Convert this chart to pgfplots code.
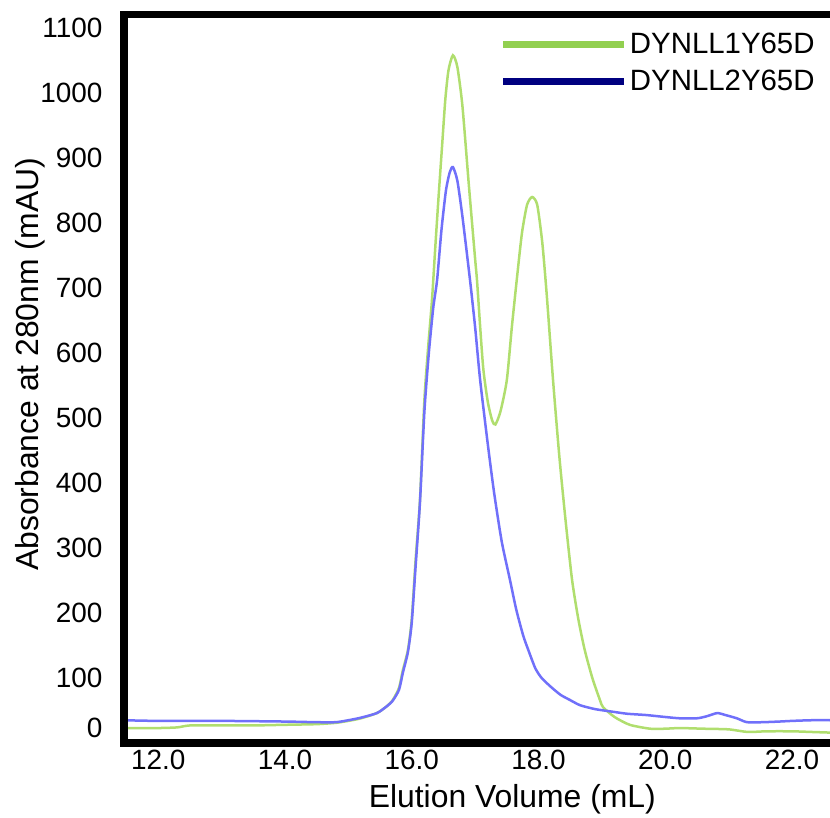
\documentclass[border=0pt]{standalone}
\usepackage{pgfplots}
\pgfplotsset{compat=1.18}
\usepackage{fontspec}
\setmainfont{Liberation Sans}
\definecolor{lgreen}{RGB}{146,208,80}
\definecolor{lnavy}{RGB}{0,0,128}
\definecolor{pgreen}{RGB}{176,222,110}
\definecolor{pblue}{RGB}{112,112,250}

\pgfplotstableread{
x y
11.46 23
12.0 23
12.3 24
12.5 27
13.0 27
13.5 27
14.0 28
14.5 29
14.8 31
15.0 34
15.2 38
15.45 46
15.6 56
15.7 66
15.8 85
15.86 112
15.94 143
16.0 190
16.06 280
16.13 374
16.2 528
16.26 610
16.32 682
16.37 760
16.42 835
16.48 920
16.53 990
16.58 1035
16.65 1058
16.72 1040
16.8 980
16.9 860
17.0 745
17.03 712
17.08 640
17.13 575
17.2 525
17.27 496
17.32 490
17.4 510
17.5 558
17.58 640
17.66 715
17.74 785
17.82 828
17.9 840
17.98 828
18.06 770
18.13 690
18.23 558
18.33 440
18.43 340
18.53 251
18.63 190
18.73 143
18.85 100
18.97 66
19.02 55
19.2 40
19.44 28
19.76 22
20.0 22
20.23 23
20.6 22
21.0 21
21.3 17
21.6 18
22.0 18
22.3 17
22.6 16
}\greendata

\pgfplotstableread{
x y
11.46 35
12.0 34
13.0 34
14.0 33
14.5 32
14.8 32
15.0 35
15.2 39
15.45 46
15.6 56
15.7 65
15.8 82
15.86 108
15.94 140
16.0 185
16.06 270
16.13 370
16.2 510
16.27 600
16.34 670
16.4 712
16.47 790
16.54 850
16.6 878
16.65 886
16.72 865
16.8 810
16.92 712
17.0 640
17.08 558
17.2 460
17.3 385
17.42 310
17.55 251
17.65 205
17.76 165
17.84 143
17.95 115
18.05 100
18.2 86
18.35 74
18.5 66
18.66 58
18.9 52
19.18 48
19.4 45
19.7 43
20.0 40
20.23 38
20.5 38
20.65 41
20.82 46
20.95 43
21.13 38
21.29 32
21.54 32
21.8 33
22.0 34
22.3 35
22.6 35
}\bluedata

\begin{document}
\begin{tikzpicture}
\begin{axis}[
  name=ax,
  scale only axis,
  width=706bp, height=728bp,
  xmin=11.46, xmax=22.6,
  ymin=0, ymax=1120,
  axis line style={draw=none},
  xtick={12,14,...,22},
  ytick={100,200,...,1100},
  extra y ticks={0},
  extra y tick style={yticklabel style={yshift=15bp}},
  major tick length=0pt,
  /pgf/number format/assume math mode=true,
  /pgf/number format/1000 sep={},
  xticklabel={\pgfmathprintnumber[fixed,fixed zerofill,precision=1]{\tick}},
  yticklabel style={xshift=-18bp},
  xticklabel style={yshift=-4bp},
  tick label style={font=\fontsize{28}{33}\selectfont},
  label style={font=\fontsize{32}{38}\selectfont},
  xlabel={Elution Volume (mL)},
  ylabel={Absorbance at 280nm (mAU)},
  xlabel style={at={(0.55,0)}, anchor=north, yshift=-38bp},
  ylabel style={at={(ticklabel cs:0.52)}, anchor=near ticklabel, yshift=-12bp},
  legend style={at={(0.528,0.981)}, anchor=north west, draw=none, fill=none,
    font=\fontsize{29.5}{34}\selectfont, row sep=11bp,
    nodes={inner sep=2bp}},
  legend cell align=left,
  legend image code/.code={\draw[#1] (0bp,0bp) -- (121bp,0bp);},
]
\addlegendimage{lgreen, line width=7bp}
\addlegendentry{DYNLL1Y65D}
\addlegendimage{lnavy, line width=7bp}
\addlegendentry{DYNLL2Y65D}
\addplot[pgreen, line width=2.5bp, smooth, tension=0.4, forget plot] table[x=x,y=y] {\greendata};
\addplot[pblue, line width=2.5bp, smooth, tension=0.4, forget plot] table[x=x,y=y] {\bluedata};
\end{axis}
\draw[line width=7bp, line cap=rect] (ax.north east) -- (ax.north west) -- (ax.south west) -- (ax.south east);
\pgfresetboundingbox
\path ([xshift=-124bp,yshift=-75bp]ax.south west) rectangle ([yshift=15bp]ax.north east);
\end{tikzpicture}
\end{document}
